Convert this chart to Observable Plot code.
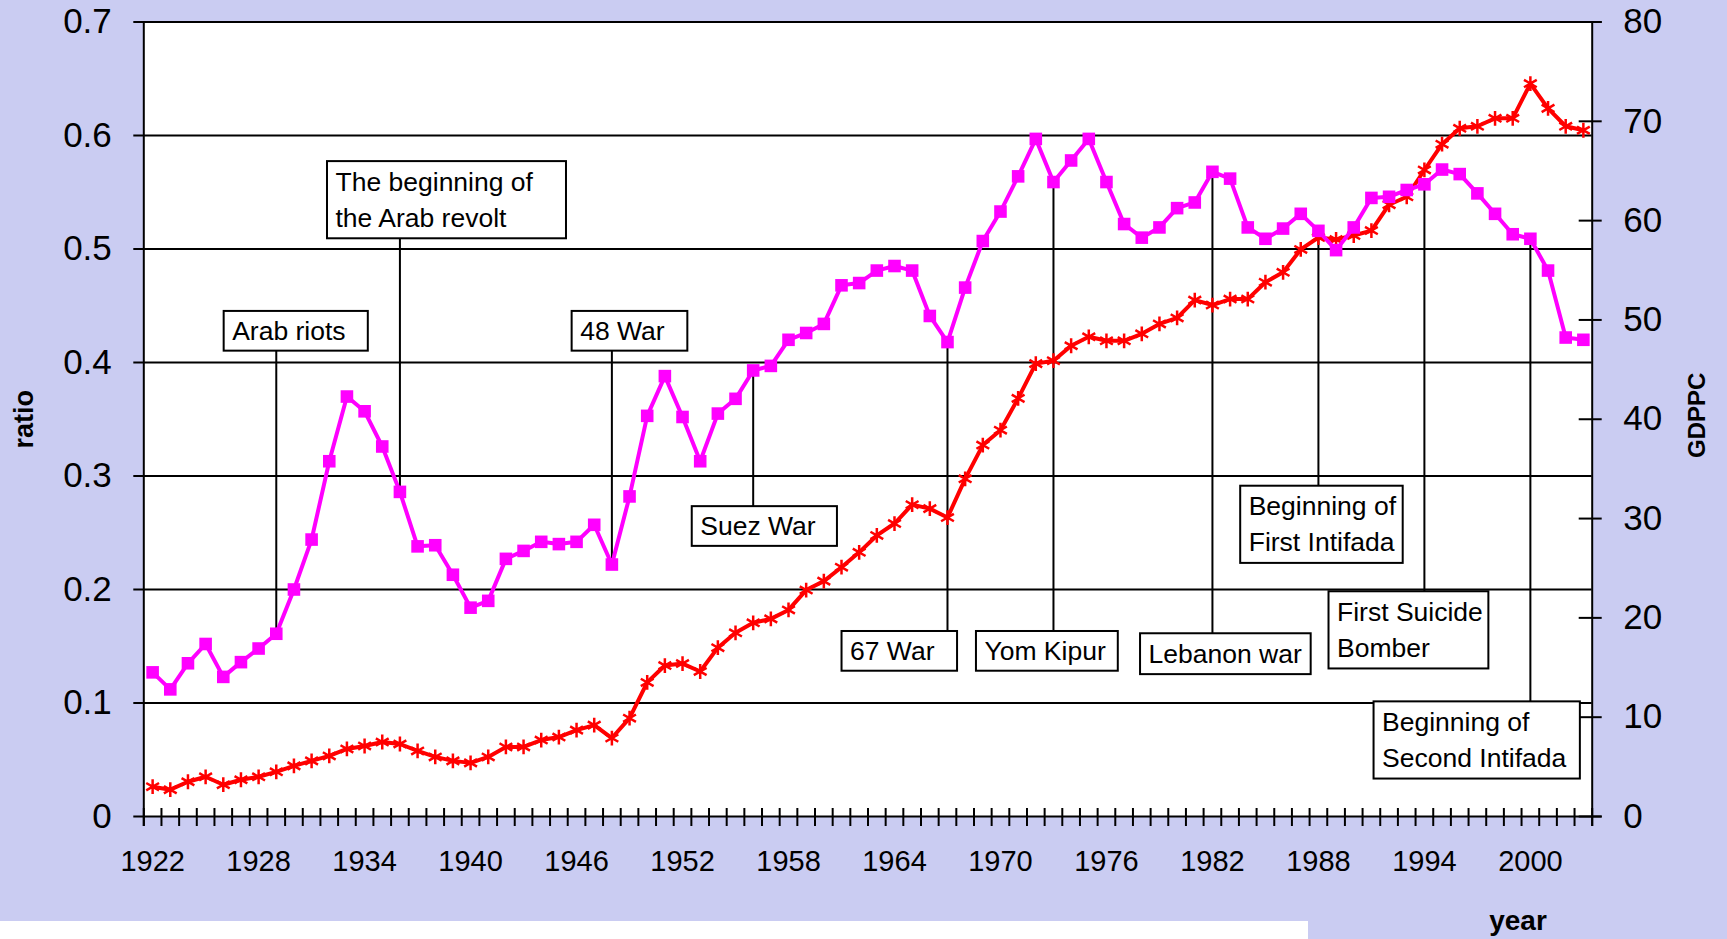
<!DOCTYPE html>
<html><head><meta charset="utf-8">
<script src="https://cdn.jsdelivr.net/npm/d3@7"></script>
<script src="https://cdn.jsdelivr.net/npm/@observablehq/plot@0.6"></script>
<style>
html,body{margin:0;padding:0;background:#CACCF2;width:1727px;height:939px;overflow:hidden;}
#strip{position:absolute;left:0;top:921px;width:1308px;height:18px;background:#ffffff;}
#chart{position:absolute;left:0;top:0;}
</style></head><body>
<div id="strip"></div>
<div id="chart"></div>
<script>
// ---- data ----
const years = [1922,1923,1924,1925,1926,1927,1928,1929,1930,1931,
  1932,1933,1934,1935,1936,1937,1938,1939,1940,1941,
  1942,1943,1944,1945,1946,1947,1948,1949,1950,1951,
  1952,1953,1954,1955,1956,1957,1958,1959,1960,1961,
  1962,1963,1964,1965,1966,1967,1968,1969,1970,1971,
  1972,1973,1974,1975,1976,1977,1978,1979,1980,1981,
  1982,1983,1984,1985,1986,1987,1988,1989,1990,1991,
  1992,1993,1994,1995,1996,1997,1998,1999,2000,2001,
  2002,2003];
const ratio = [0.127,0.112,0.135,0.152,0.123,0.136,0.148,0.161,0.200,0.244,
  0.313,0.370,0.357,0.326,0.286,0.238,0.239,0.213,0.184,0.190,
  0.227,0.234,0.242,0.240,0.242,0.257,0.222,0.282,0.353,0.388,
  0.352,0.313,0.355,0.368,0.393,0.397,0.420,0.426,0.434,0.468,
  0.470,0.481,0.485,0.481,0.441,0.418,0.466,0.507,0.533,0.564,
  0.597,0.559,0.578,0.597,0.559,0.522,0.510,0.519,0.536,0.541,
  0.568,0.562,0.519,0.509,0.518,0.531,0.516,0.499,0.519,0.545,
  0.546,0.552,0.557,0.570,0.566,0.549,0.531,0.513,0.509,0.481,
  0.422,0.420];
const gdppc = [3.0,2.7,3.5,4.0,3.2,3.7,4.0,4.5,5.1,5.6,
  6.1,6.8,7.1,7.5,7.3,6.6,6.0,5.6,5.4,6.0,
  7.0,7.0,7.7,8.0,8.7,9.2,7.9,9.9,13.5,15.2,
  15.4,14.6,17.0,18.5,19.5,19.9,20.8,22.8,23.7,25.1,
  26.6,28.3,29.5,31.4,31.0,30.1,34.0,37.4,38.9,42.1,
  45.6,45.9,47.4,48.3,47.9,47.9,48.6,49.6,50.2,52.0,
  51.5,52.1,52.1,53.8,54.8,57.1,58.3,58.1,58.5,59.0,
  61.6,62.4,65.1,67.7,69.3,69.5,70.3,70.3,73.8,71.3,
  69.5,69.1];
const labelYears = [1922,1928,1934,1940,1946,1952,1958,1964,1970,1976,1982,1988,1994,2000];
const leftTicks = [0,0.1,0.2,0.3,0.4,0.5,0.6,0.7];
const rightTicks = [0,10,20,30,40,50,60,70,80];
const eventYears = [1929,1936,1948,1956,1967,1973,1982,1988,1994,2000];
const eventLabels = ["Arab riots","The beginning of\nthe Arab revolt","48 War","Suez War","67 War","Yom Kipur","Lebanon war","Beginning of\nFirst Intifada","First Suicide\nBomber","Beginning of\nSecond Intifada"];

// ---- annotation box layout (data coordinates: year span, ratio span) ----
const boxLayout = [
  {x1:1926.05,x2:1934.21,yTop:0.445,yBot:0.410},
  {x1:1931.90,x2:1945.43,yTop:0.577,yBot:0.509},
  {x1:1945.75,x2:1952.30,yTop:0.445,yBot:0.410},
  {x1:1952.55,x2:1960.77,yTop:0.273,yBot:0.238},
  {x1:1961.03,x2:1967.57,yTop:0.163,yBot:0.128},
  {x1:1968.64,x2:1976.67,yTop:0.163,yBot:0.128},
  {x1:1977.93,x2:1987.59,yTop:0.161,yBot:0.125},
  {x1:1983.60,x2:1992.80,yTop:0.291,yBot:0.223},
  {x1:1988.60,x2:1997.65,yTop:0.198,yBot:0.130},
  {x1:1991.15,x2:2002.83,yTop:0.101,yBot:0.033}
];

// ---- derived ----
const W = 1727, H = 939;
const mL = 143.3, mR = 135.3, mT = 21.5, mB = 123;
const fw = W - mL - mR, fh = H - mT - mB;
const k = 0.7 / 80; // GDPPC -> ratio axis
const rows = years.map((year, i) => ({year, ratio: ratio[i], gdppc: gdppc[i]}));
const events = eventYears.map((year, i) => {
  const value = ratio[years.indexOf(year)];
  const b = boxLayout[i];
  return {year, label: eventLabels[i], value, ...b, edge: b.yBot > value ? b.yBot : b.yTop};
});
const xDomain = [years[0] - 0.5, years[years.length - 1] + 0.5];
const boundaries = years.map(y => y - 0.5).concat([years[years.length - 1] + 0.5]);
const font = "'Liberation Sans', Arial, Helvetica, sans-serif";

const chart = Plot.plot({
  width: W, height: H,
  marginLeft: mL, marginRight: mR, marginTop: mT, marginBottom: mB,
  x: {domain: xDomain},
  y: {domain: [0, 0.7]},
  style: {fontFamily: font, color: "black", background: "transparent", overflow: "visible"},
  marks: [
    Plot.frame({fill: "white", stroke: null}),
    // gridlines (with outer left ticks)
    Plot.ruleY(leftTicks.filter(d => d > 0 && d < 0.7), {stroke: "black", strokeWidth: 2, insetLeft: -10}),
    Plot.ruleY([leftTicks[0], leftTicks[leftTicks.length - 1]], {stroke: "black", strokeWidth: 2, insetLeft: -10, insetRight: -10}),
    // left/right axis lines
    Plot.ruleX(xDomain, {stroke: "black", strokeWidth: 2, insetBottom: -10}),
    // x crossing ticks
    Plot.ruleX(boundaries, {stroke: "black", strokeWidth: 2, insetTop: fh - 8, insetBottom: -10}),
    // right crossing ticks
    Plot.ruleY(rightTicks, {y: d => d * k, stroke: "black", strokeWidth: 2, insetLeft: fw - 13, insetRight: -10}),
    // leaders
    Plot.ruleX(events, {x: "year", y1: "value", y2: "edge", stroke: "black", strokeWidth: 2}),
    // series
    Plot.line(rows, {x: "year", y: d => d.gdppc * k, stroke: "#FF0000", strokeWidth: 4}),
    Plot.dot(rows, {x: "year", y: d => d.gdppc * k, symbol: "asterisk", r: 7, stroke: "#FF0000", strokeWidth: 2.5}),
    Plot.line(rows, {x: "year", y: "ratio", stroke: "#FF00FF", strokeWidth: 4}),
    Plot.dot(rows, {x: "year", y: "ratio", symbol: "square", r: 7.1, fill: "#FF00FF", stroke: null}),
    // annotation boxes
    Plot.rect(events, {x1: "x1", x2: "x2", y1: "yBot", y2: "yTop", fill: "white", stroke: "black", strokeWidth: 2}),
    Plot.text(events, {x: "x1", y: d => (d.yTop + d.yBot) / 2, text: "label", textAnchor: "start", lineAnchor: "middle", dx: 8, dy: -3, lineHeight: 1.35, fontSize: 26.5, fill: "black"}),
    // axes
    Plot.axisX({ticks: labelYears, tickSize: 0, tickPadding: 34, fontSize: 29, tickFormat: d => String(d), label: null}),
    Plot.axisY({anchor: "left", ticks: leftTicks, tickSize: 0, tickPadding: 32, fontSize: 35, tickFormat: d => d === 0 ? "0" : d.toFixed(1), label: null}),
    Plot.axisY({anchor: "right", ticks: rightTicks.map(v => v * k), tickSize: 0, tickPadding: 31, fontSize: 35, tickFormat: d => String(Math.round(d / k)), label: null}),
    // axis titles
    Plot.text(["ratio"], {frameAnchor: "left", rotate: -90, textAnchor: "middle", lineAnchor: "middle", dx: -119, fontSize: 27, fontWeight: "bold", fill: "black"}),
    Plot.text(["GDPPC"], {frameAnchor: "right", rotate: -90, textAnchor: "middle", lineAnchor: "middle", dx: 105, dy: -4, fontSize: 24, fontWeight: "bold", fill: "black"}),
    Plot.text(["year"], {frameAnchor: "bottom", textAnchor: "middle", dx: 650, dy: 113, fontSize: 28, fontWeight: "bold", fill: "black"})
  ]
});
document.getElementById("chart").appendChild(chart);
</script>
</body></html>
